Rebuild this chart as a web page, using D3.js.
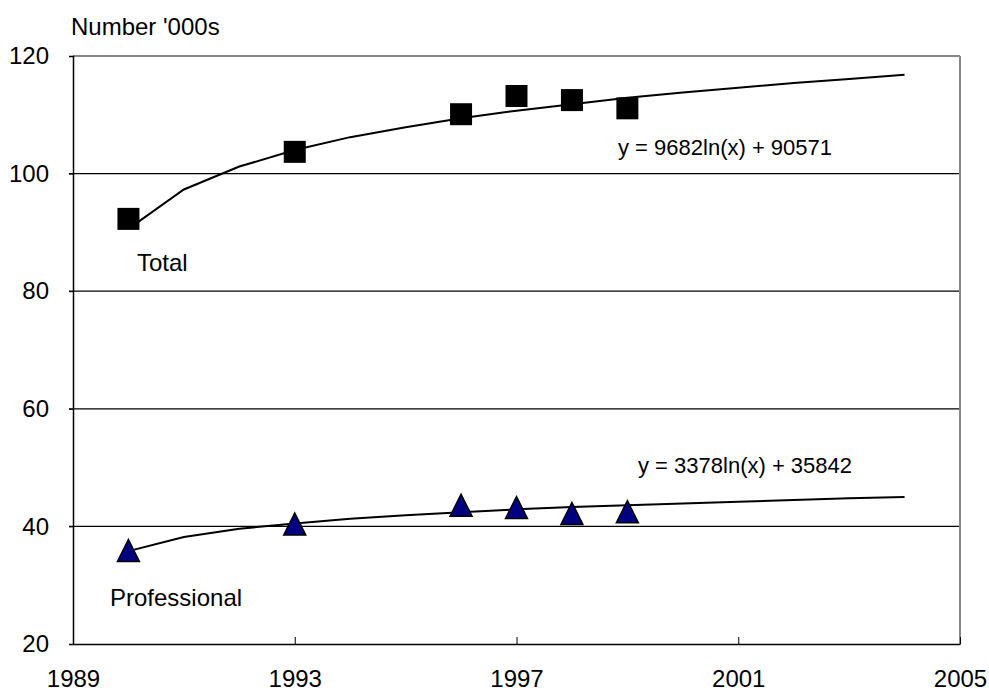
<!DOCTYPE html>
<html><head><meta charset="utf-8">
<script src="https://cdn.jsdelivr.net/npm/d3@7"></script>
<style>body{margin:0;background:#fff}text{font-family:"Liberation Sans",Arial,sans-serif;fill:#000}</style>
</head><body><svg id="c" width="989" height="693"></svg>
<script>
const years = [1990, 1993, 1996, 1997, 1998, 1999];
const totalValues = [92.3, 103.7, 110.1, 113.2, 112.5, 111.1];
const professionalValues = [35.9, 40.4, 43.6, 43.2, 42.2, 42.5];
const trendYears = [1990,1991,1992,1993,1994,1995,1996,1997,1998,1999,2000,2001,2002,2003,2004];
const totalTrend = [90.6,97.3,101.2,104.0,106.2,107.9,109.4,110.7,111.8,112.9,113.8,114.6,115.4,116.1,116.8];
const professionalTrend = [35.8,38.2,39.6,40.5,41.3,41.9,42.4,42.9,43.3,43.6,43.9,44.2,44.5,44.8,45.0];
const xTicks = [1989, 1993, 1997, 2001, 2005];
const yTicks = [20, 40, 60, 80, 100, 120];
const totalEquation = "y = 9682ln(x) + 90571";
const professionalEquation = "y = 3378ln(x) + 35842";

const svg = d3.select("#c");
const L = 73, R = 960, T = 56, B = 644;
const x = d3.scaleLinear().domain([1989, 2005]).range([L, R]);
const y = d3.scaleLinear().domain([20, 120]).range([B, T]);

// gridlines
svg.append("g").selectAll("line").data(yTicks.filter(v => v > 20 && v < 120)).join("line")
  .attr("x1", L - 4).attr("x2", R).attr("y1", d => y(d)).attr("y2", d => y(d))
  .attr("stroke", "#000").attr("stroke-width", 1.2);
// top & right border gray
svg.append("line").attr("x1", L).attr("x2", R).attr("y1", T).attr("y2", T).attr("stroke", "#888").attr("stroke-width", 2);
svg.append("line").attr("x1", R).attr("x2", R).attr("y1", T).attr("y2", B).attr("stroke", "#888").attr("stroke-width", 2);

// y axis
const ya = svg.append("g").attr("transform", `translate(${L},0)`)
  .call(d3.axisLeft(y).tickValues(yTicks).tickSize(4).tickPadding(20).tickFormat(d3.format("d")));
ya.select(".domain").attr("stroke", "#000").attr("stroke-width", 1.5);
ya.selectAll(".tick line").attr("stroke", "#000");
ya.selectAll("text").style("font-size", "24px").attr("font-family", null);

// x axis
const xa = svg.append("g").attr("transform", `translate(0,${B})`)
  .call(d3.axisBottom(x).tickValues(xTicks).tickSizeInner(-7).tickSizeOuter(0).tickPadding(26).tickFormat(d3.format("d")));
xa.select(".domain").attr("stroke", "#000").attr("stroke-width", 1.5);
xa.selectAll(".tick line").attr("stroke", "#000");
xa.selectAll("text").style("font-size", "24px").attr("font-family", null);

// trend lines
const line = d3.line().x(d => x(d[0])).y(d => y(d[1]));
svg.append("path").datum(trendYears.map((yr, i) => [yr, totalTrend[i]]))
  .attr("d", line).attr("fill", "none").attr("stroke", "#000").attr("stroke-width", 2);
svg.append("path").datum(trendYears.map((yr, i) => [yr, professionalTrend[i]]))
  .attr("d", line).attr("fill", "none").attr("stroke", "#000").attr("stroke-width", 2);

// markers
svg.append("g").selectAll("path").data(years.map((yr, i) => [yr, totalValues[i]])).join("path")
  .attr("d", d3.symbol(d3.symbolSquare, 22 * 22)())
  .attr("transform", d => `translate(${x(d[0])},${y(d[1])})`).attr("fill", "#000");
const tri = (s) => `M0,${-s/2}L${s/2},${s/2}L${-s/2},${s/2}Z`;
svg.append("g").selectAll("path").data(years.map((yr, i) => [yr, professionalValues[i]])).join("path")
  .attr("d", tri(22))
  .attr("transform", d => `translate(${x(d[0])},${y(d[1])})`)
  .attr("fill", "#000080").attr("stroke", "#000").attr("stroke-width", 1.5);

// labels
svg.append("text").attr("x", 71).attr("y", 35).style("font-size", "24px").text("Number '000s");
svg.append("text").attr("x", 137).attr("y", 271).style("font-size", "24px").text("Total");
svg.append("text").attr("x", 110).attr("y", 606).style("font-size", "24px").text("Professional");
svg.append("text").attr("x", 618).attr("y", 155).style("font-size", "22px").text(totalEquation);
svg.append("text").attr("x", 638).attr("y", 473).style("font-size", "22px").text(professionalEquation);
</script></body></html>
